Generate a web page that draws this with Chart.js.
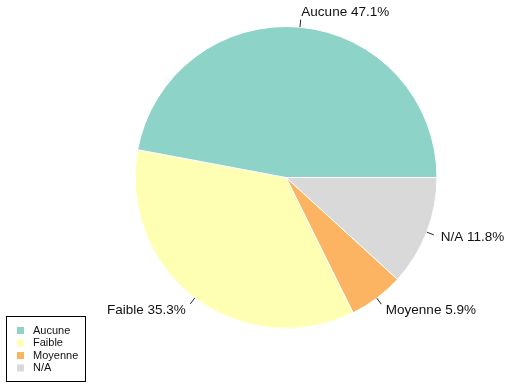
<!DOCTYPE html>
<html>
<head>
<meta charset="utf-8">
<script src="https://cdn.jsdelivr.net/npm/chart.js@4"></script>
<style>
  html, body { margin: 0; padding: 0; background: #fff; }
  #wrap { width: 506px; height: 385px; }
</style>
</head>
<body>
<div id="wrap"><canvas id="pieChart" width="506" height="385"></canvas></div>
<script>
// === Données ===
const categories = ['Aucune', 'Faible', 'Moyenne', 'N/A'];
const percents = [47.1, 35.3, 5.9, 11.8];
const colors = ['#8DD3C7', '#FFFFB3', '#FDB462', '#D9D9D9'];

// R dessine dans le sens anti-horaire depuis 3h, Chart.js dans le sens horaire
const order = [3, 2, 1, 0];

// === Étiquettes autour du camembert ===
const pieLabels = {
  id: 'pieLabels',
  afterDatasetsDraw(chart) {
    const ctx = chart.ctx;
    const arcs = chart.getDatasetMeta(0).data;
    ctx.save();
    ctx.font = '13.5px "Liberation Sans", Arial, sans-serif';
    ctx.fillStyle = '#111';
    ctx.strokeStyle = '#222';
    ctx.lineWidth = 1;
    ctx.textBaseline = 'middle';
    arcs.forEach((arc, i) => {
      const idx = order[i];
      const mid = (arc.startAngle + arc.endAngle) / 2;
      const r = arc.outerRadius;
      const cx = Math.cos(mid), cy = Math.sin(mid);
      ctx.beginPath();
      ctx.moveTo(arc.x + cx * r, arc.y + cy * r);
      ctx.lineTo(arc.x + cx * r * 1.05, arc.y + cy * r * 1.05);
      ctx.stroke();
      ctx.textAlign = cx >= 0 ? 'left' : 'right';
      ctx.fillText(categories[idx] + ' ' + percents[idx].toFixed(1) + '%',
        arc.x + cx * r * 1.1, arc.y + cy * r * 1.1);
    });
    ctx.restore();
  }
};

// === Légende encadrée en bas à gauche ===
const boxLegend = {
  id: 'boxLegend',
  afterDraw(chart) {
    const ctx = chart.ctx;
    ctx.save();
    ctx.strokeStyle = '#000';
    ctx.lineWidth = 1;
    ctx.strokeRect(6.5, 316.5, 79, 65);
    ctx.font = '11px "Liberation Sans", Arial, sans-serif';
    ctx.textBaseline = 'middle';
    ctx.textAlign = 'left';
    categories.forEach((cat, i) => {
      const y = 330 + i * 12.5;
      ctx.fillStyle = colors[i];
      ctx.fillRect(17, y - 3, 7, 7);
      ctx.fillStyle = '#111';
      ctx.fillText(cat, 33, y + 0.5);
    });
    ctx.restore();
  }
};

const ctx = document.getElementById('pieChart').getContext('2d');
new Chart(ctx, {
  type: 'pie',
  data: {
    labels: order.map(i => categories[i]),
    datasets: [{
      data: order.map(i => percents[i]),
      backgroundColor: order.map(i => colors[i]),
      borderColor: '#ffffff',
      borderWidth: 1
    }]
  },
  options: {
    responsive: false,
    animation: false,
    rotation: 90,
    radius: 151,
    layout: { padding: { left: 136, right: 70, top: 27.5, bottom: 57.5 } },
    plugins: {
      legend: { display: false },
      tooltip: { enabled: false }
    }
  },
  plugins: [pieLabels, boxLegend]
});
</script>
</body>
</html>
